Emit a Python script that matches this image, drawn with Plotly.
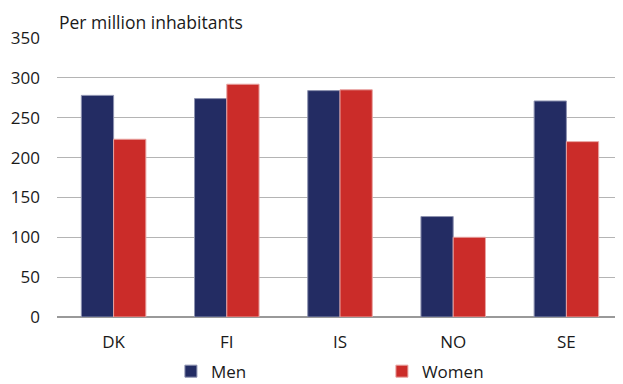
import plotly.graph_objects as go

countries = ["DK", "FI", "IS", "NO", "SE"]
men = [278, 274, 284, 126, 271]
women = [223, 292, 285, 100, 220]

NAVY = "#232C63"
RED = "#CB2C29"
FONT = "Open Sans, Noto Sans, sans-serif"

fig = go.Figure()
fig.add_trace(go.Bar(x=countries, y=men, name="Men", marker_color=NAVY,
                     marker_line=dict(color="#8d92b0", width=1)))
fig.add_trace(go.Bar(x=countries, y=women, name="Women", marker_color=RED,
                     marker_line=dict(color="#e8a3a1", width=1)))

# page body keeps its default 8px margin, so the figure is sized to fit the window
fig.update_layout(
    width=615, height=376,
    margin=dict(l=49, r=0, t=30, b=67),
    paper_bgcolor="white", plot_bgcolor="white",
    font=dict(family=FONT, size=17, color="#1a1a1a"),
    barmode="group", bargap=0.43, bargroupgap=0,
    showlegend=True,
    # container refs so the legend does not push the bottom margin
    legend=dict(orientation="h", xref="container", yref="container",
                x=0.608, xanchor="center", y=0.033, yanchor="middle",
                entrywidth=166, font=dict(size=17), itemwidth=30),
    xaxis=dict(showgrid=False, ticks="", showline=False, tickfont=dict(size=17),
               ticklabelstandoff=13, automargin=False),
    yaxis=dict(range=[0, 350], dtick=50, showgrid=True, gridcolor="#b4b4b4", gridwidth=1,
               zeroline=True, zerolinecolor="#999999", zerolinewidth=1.5,
               ticks="", tickfont=dict(size=17), ticklabelstandoff=16, automargin=False),
)
fig.add_annotation(text="Per million inhabitants", xref="paper", yref="paper",
                   x=0, y=1, yshift=30, xanchor="left", yanchor="top",
                   showarrow=False, font=dict(size=17.5))

fig.write_html("out.html")
